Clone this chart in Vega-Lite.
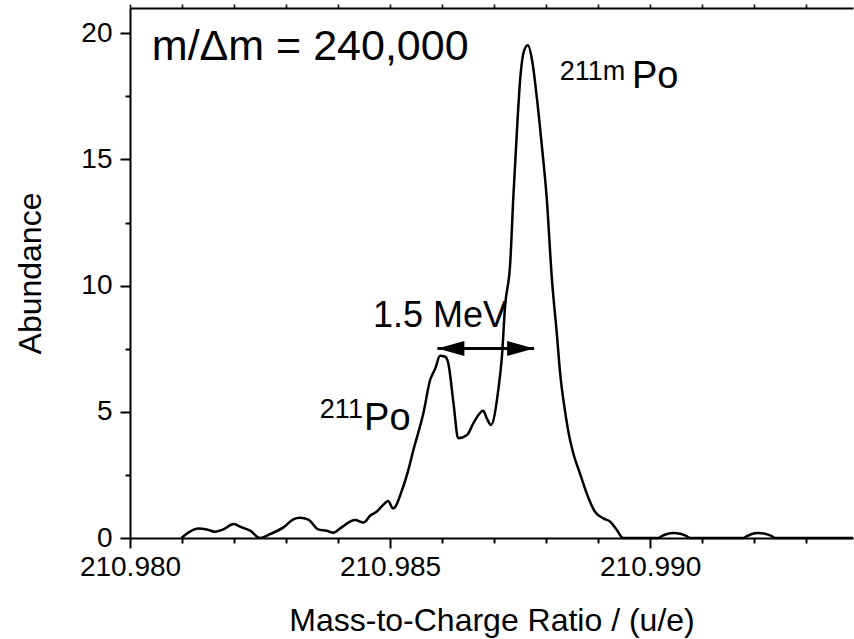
{
  "$schema": "https://vega.github.io/schema/vega-lite/v6.json",
  "width": 723,
  "height": 530,
  "autosize": "none",
  "padding": {"left": 130, "top": 8, "right": 1, "bottom": 101},
  "background": "white",
  "config": {
    "view": {"stroke": null},
    "axis": {
      "domainColor": "black", "tickColor": "black", "labelColor": "black", "titleColor": "black",
      "labelFont": "Liberation Sans", "titleFont": "Liberation Sans", "grid": false,
      "titleFontWeight": "normal", "labelOverlap": false, "labelBound": false, "labelFlush": false
    },
    "text": {"font": "Liberation Sans", "color": "black"}
  },
  "datasets": {
    "curve": [
      {"mz": 210.98099, "ab": 0}, {"mz": 210.98115, "ab": 0.25}, {"mz": 210.98131, "ab": 0.38},
      {"mz": 210.98148, "ab": 0.34}, {"mz": 210.98163, "ab": 0.25}, {"mz": 210.98179, "ab": 0.34},
      {"mz": 210.98199, "ab": 0.55}, {"mz": 210.98215, "ab": 0.42}, {"mz": 210.98231, "ab": 0.29},
      {"mz": 210.9825, "ab": 0}, {"mz": 210.98269, "ab": 0.15}, {"mz": 210.98295, "ab": 0.42},
      {"mz": 210.98314, "ab": 0.74}, {"mz": 210.98327, "ab": 0.8}, {"mz": 210.98343, "ab": 0.73},
      {"mz": 210.98362, "ab": 0.34}, {"mz": 210.98378, "ab": 0.29}, {"mz": 210.98391, "ab": 0.21},
      {"mz": 210.98404, "ab": 0.38}, {"mz": 210.98433, "ab": 0.71}, {"mz": 210.98449, "ab": 0.61},
      {"mz": 210.98462, "ab": 0.89}, {"mz": 210.98474, "ab": 1.04}, {"mz": 210.9849, "ab": 1.38},
      {"mz": 210.98496, "ab": 1.47}, {"mz": 210.98506, "ab": 1.17}, {"mz": 210.98523, "ab": 1.9},
      {"mz": 210.98535, "ab": 2.69}, {"mz": 210.98545, "ab": 3.5}, {"mz": 210.98564, "ab": 4.94},
      {"mz": 210.98577, "ab": 6.26}, {"mz": 210.98587, "ab": 6.72}, {"mz": 210.98596, "ab": 7.22},
      {"mz": 210.98606, "ab": 7.18}, {"mz": 210.98612, "ab": 6.92}, {"mz": 210.98622, "ab": 5.33},
      {"mz": 210.98631, "ab": 3.95}, {"mz": 210.98648, "ab": 4.08}, {"mz": 210.9866, "ab": 4.54},
      {"mz": 210.98679, "ab": 5.04}, {"mz": 210.98686, "ab": 4.74}, {"mz": 210.98694, "ab": 4.48},
      {"mz": 210.98708, "ab": 5.86}, {"mz": 210.98715, "ab": 7.18}, {"mz": 210.98721, "ab": 9.16},
      {"mz": 210.98731, "ab": 10.9}, {"mz": 210.98737, "ab": 13.52}, {"mz": 210.98744, "ab": 16.16},
      {"mz": 210.9875, "ab": 18.14}, {"mz": 210.98758, "ab": 19.33}, {"mz": 210.98765, "ab": 19.52},
      {"mz": 210.98773, "ab": 18.93}, {"mz": 210.98782, "ab": 17.48}, {"mz": 210.98792, "ab": 15.5},
      {"mz": 210.98801, "ab": 13.52}, {"mz": 210.98811, "ab": 10.3}, {"mz": 210.98821, "ab": 8.0},
      {"mz": 210.98827, "ab": 6.52}, {"mz": 210.98837, "ab": 4.94}, {"mz": 210.98846, "ab": 3.88},
      {"mz": 210.98853, "ab": 3.3}, {"mz": 210.98865, "ab": 2.56}, {"mz": 210.98878, "ab": 1.77},
      {"mz": 210.98894, "ab": 1.04}, {"mz": 210.9891, "ab": 0.78}, {"mz": 210.98923, "ab": 0.65},
      {"mz": 210.98936, "ab": 0.32}, {"mz": 210.98948, "ab": 0}, {"mz": 210.99016, "ab": 0},
      {"mz": 210.99023, "ab": 0.08}, {"mz": 210.99031, "ab": 0.15}, {"mz": 210.99045, "ab": 0.2},
      {"mz": 210.99058, "ab": 0.17}, {"mz": 210.99069, "ab": 0.08}, {"mz": 210.99077, "ab": 0},
      {"mz": 210.99179, "ab": 0}, {"mz": 210.99187, "ab": 0.08}, {"mz": 210.99194, "ab": 0.15},
      {"mz": 210.99208, "ab": 0.2}, {"mz": 210.99221, "ab": 0.17}, {"mz": 210.99233, "ab": 0.08},
      {"mz": 210.9924, "ab": 0}, {"mz": 210.9939, "ab": 0}
    ],
    "arrow": [{"mz": 210.98591, "mz2": 210.98777, "ab": 7.51}],
    "heads": [{"mz": 210.98591, "ab": 7.51, "dir": "left"}, {"mz": 210.98777, "ab": 7.51, "dir": "right"}],
    "big": [{"mz": 210.98042, "ab": 18.94, "label": "m/Δm = 240,000"}],
    "mev": [{"mz": 210.98467, "ab": 8.36, "label": "1.5 MeV"}],
    "po": [{"mz": 210.9845, "ab": 4.28, "label": "Po"}, {"mz": 210.98965, "ab": 17.83, "label": "Po"}],
    "sup": [{"mz": 210.98365, "ab": 4.75, "label": "211"}, {"mz": 210.98826, "ab": 18.15, "label": "211m"}]
  },
  "encoding": {
    "y": {
      "field": "ab", "type": "quantitative",
      "scale": {"domain": [0, 21], "nice": false},
      "axis": {
        "orient": "left",
        "values": [0, 2.5, 5, 7.5, 10, 12.5, 15, 17.5, 20],
        "labelExpr": "datum.value % 5 === 0 ? format(datum.value, 'd') : ''",
        "tickSize": {"condition": {"test": "datum.value % 5 === 0", "value": 10}, "value": 5},
        "tickWidth": 2, "domainWidth": 2,
        "labelFontSize": 28, "labelPadding": 8,
        "title": "Abundance", "titleFontSize": 32,
        "titleX": -100, "titleY": 265, "titleAngle": -90, "titleBaseline": "middle", "titleAlign": "center"
      }
    }
  },
  "layer": [
    {
      "data": {"name": "curve"},
      "mark": {"type": "line", "color": "black", "strokeWidth": 2.5, "strokeJoin": "round", "interpolate": "monotone"},
      "encoding": {
        "x": {
          "field": "mz", "type": "quantitative",
          "scale": {"domain": [210.98, 210.9939], "nice": false, "zero": false},
          "axis": {
            "orient": "bottom",
            "values": [210.98, 210.981, 210.982, 210.983, 210.984, 210.985, 210.986, 210.987, 210.988, 210.989, 210.99, 210.991, 210.992, 210.993],
            "labelExpr": "abs(datum.value*200 - round(datum.value*200)) < 0.001 ? format(datum.value, '.3f') : ''",
            "tickSize": {"condition": {"test": "abs(datum.value*200 - round(datum.value*200)) < 0.001", "value": 10}, "value": 5},
            "tickWidth": 2, "domainWidth": 2,
            "labelFontSize": 28, "labelPadding": 5,
            "title": "Mass-to-Charge Ratio / (u/e)", "titleFontSize": 32,
            "titleX": 361.5, "titleY": 92, "titleBaseline": "alphabetic", "titleAlign": "center"
          }
        }
      }
    },
    {
      "data": {"name": "arrow"},
      "mark": {"type": "rule", "color": "black", "strokeWidth": 3},
      "encoding": {
        "x": {
          "field": "mz", "type": "quantitative",
          "axis": {
            "orient": "top",
            "values": [210.98, 210.981, 210.982, 210.983, 210.984, 210.985, 210.986, 210.987, 210.988, 210.989, 210.99, 210.991, 210.992, 210.993],
            "labels": false, "tickSize": 4, "tickWidth": 1.5, "domainWidth": 2, "title": null
          }
        },
        "x2": {"field": "mz2"}
      }
    },
    {
      "data": {"name": "heads"},
      "mark": {"type": "point", "filled": true, "color": "black", "opacity": 1, "size": 729, "strokeWidth": 0},
      "encoding": {
        "x": {"field": "mz", "type": "quantitative", "axis": null},
        "shape": {
          "field": "dir", "type": "nominal", "legend": null,
          "scale": {"domain": ["left", "right"], "range": ["M 0 0 L 2 -0.55 L 2 0.55 Z", "M 0 0 L -2 -0.55 L -2 0.55 Z"]}
        }
      }
    },
    {
      "data": {"name": "big"},
      "mark": {"type": "text", "fontSize": 43, "align": "left", "baseline": "alphabetic"},
      "encoding": {
        "x": {"field": "mz", "type": "quantitative", "axis": null},
        "text": {"field": "label"}
      }
    },
    {
      "data": {"name": "mev"},
      "mark": {"type": "text", "fontSize": 36, "align": "left", "baseline": "alphabetic"},
      "encoding": {
        "x": {"field": "mz", "type": "quantitative", "axis": null},
        "text": {"field": "label"}
      }
    },
    {
      "data": {"name": "po"},
      "mark": {"type": "text", "fontSize": 38, "align": "left", "baseline": "alphabetic"},
      "encoding": {
        "x": {"field": "mz", "type": "quantitative", "axis": null},
        "text": {"field": "label"}
      }
    },
    {
      "data": {"name": "sup"},
      "mark": {"type": "text", "fontSize": 27, "align": "left", "baseline": "alphabetic"},
      "encoding": {
        "x": {"field": "mz", "type": "quantitative", "axis": null},
        "text": {"field": "label"}
      }
    }
  ],
  "resolve": {"axis": {"x": "independent"}}
}
